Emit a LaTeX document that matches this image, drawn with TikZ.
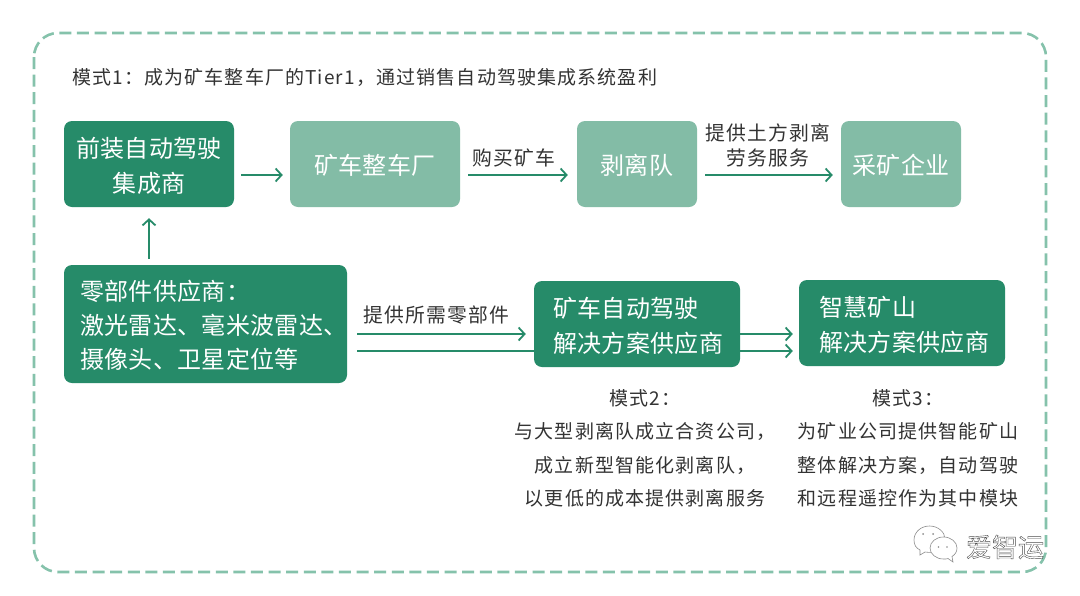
\documentclass[tikz,border=0pt]{standalone}
\usepackage{fontspec}
\usetikzlibrary{arrows.meta}
\setmainfont{Noto Sans CJK SC}
\newfontfamily\boxfont[LetterSpace=1.5]{Noto Sans CJK SC}
\newfontfamily\labfont[LetterSpace=6]{Noto Sans CJK SC}
\newcommand{\bline}[1]{\raisebox{-1.5pt}[\height][\depth]{#1}}
\definecolor{dkgreen}{HTML}{268B69}
\definecolor{ltgreen}{HTML}{83BCA6}
\definecolor{dashgreen}{HTML}{85C2AB}
\definecolor{inktext}{HTML}{333333}
\tikzset{
  dkbox/.style={fill=dkgreen,rounded corners=8pt,text=white,inner sep=0pt,font=\boxfont\fontsize{24}{35}\selectfont},
  ltbox/.style={fill=ltgreen,rounded corners=8pt,text=white,inner sep=0pt,font=\boxfont\fontsize{24}{35}\selectfont},
  lab/.style={text=inktext,inner sep=0pt,align=center,font=\labfont\fontsize{19}{33.5}\selectfont},
  arrlab/.style={text=inktext,inner sep=0pt,align=center,font=\labfont\fontsize{19.8}{25}\selectfont},
  arr/.style={draw=dkgreen,line width=1.8pt,-{Straight Barb[length=6pt,width=13pt,line width=1.8pt]}},
  plainline/.style={draw=dkgreen,line width=1.8pt}
}
\begin{document}
\begin{tikzpicture}[x=1pt,y=-1pt]
\useasboundingbox (0,0) rectangle (1080,595);
\fill[white] (0,0) rectangle (1080,595);
\draw[dashgreen,line width=2.6pt,rounded corners=24pt,dash pattern=on 12pt off 5.6pt] (34,33) rectangle (1046,572);

\node[lab,anchor=west,font=\labfont\fontsize{19}{22}\selectfont] (title) at (72,77) {模式1：成为矿车整车厂的Tier1，通过销售自动驾驶集成系统盈利};

\node[dkbox,minimum width=170pt,minimum height=86pt,align=center] (qz) at (149,164) {\bline{前装自动驾驶}\\\bline{集成商}};
\node[ltbox,minimum width=170pt,minimum height=86pt] (cc) at (375,164) {\bline{矿车整车厂}};
\node[ltbox,minimum width=120pt,minimum height=86pt] (bl) at (637,164) {\bline{剥离队}};
\node[ltbox,minimum width=120pt,minimum height=86pt] (ck) at (901,164) {\bline{采矿企业}};
\node[dkbox,minimum width=283pt,minimum height=118pt,align=left,text width=251pt,font=\boxfont\fontsize{24}{34}\selectfont] (ljj) at (205.5,324) {\bline{零部件供应商：}\\\bline{激光雷达、毫米波雷达、}\\\bline{摄像头、卫星定位等}};
\node[dkbox,minimum width=206pt,minimum height=86pt,align=left,text width=168pt] (jj) at (637,324) {\bline{矿车自动驾驶}\\\bline{解决方案供应商}};
\node[dkbox,minimum width=206pt,minimum height=86pt,align=left,text width=166pt] (zh) at (902,323) {\bline{智慧矿山}\\\bline{解决方案供应商}};

\draw[arr] ([xshift=7pt,yshift=-11pt]qz.east) -- ([xshift=-7pt,yshift=-11pt]cc.west);
\draw[arr] ([yshift=6pt]ljj.north -| qz.south) -- ([yshift=-11pt]qz.south);
\draw[arr] ([xshift=8pt,yshift=-11pt]cc.east) -- node[arrlab,above=7pt,pos=0.46] (gm) {购买矿车} ([xshift=-9pt,yshift=-11pt]bl.west);
\draw[arr] ([xshift=8pt,yshift=-11pt]bl.east) -- ([xshift=-8pt,yshift=-11pt]ck.west);
\node[arrlab] (tg) at (768,145) {提供土方剥离\\劳务服务};
\node[arrlab] (sx) at (436,315) {提供所需零部件};
\draw[arr] ([xshift=10pt,yshift=-10pt]ljj.east) -- ([xshift=-8pt,yshift=-10pt]jj.west);
\draw[plainline] ([xshift=10pt,yshift=-27pt]ljj.east) -- ([yshift=-27pt]jj.west);
\draw[arr] ([yshift=-10pt]jj.east) -- ([xshift=-6pt,yshift=-11pt]zh.west);
\draw[arr] ([yshift=-27pt]jj.east) -- ([xshift=-6pt,yshift=-28pt]zh.west);

\node[lab] (m2) at (645,448.5) {模式2：\\与大型剥离队成立合资公司，\\成立新型智能化剥离队，\\以更低的成本提供剥离服务};
\node[lab] (m3) at (908,448.5) {模式3：\\为矿业公司提供智能矿山\\整体解决方案，自动驾驶\\和远程遥控作为其中模块};

% watermark
\begin{scope}[draw=black!45,line width=0.6pt]
\draw[fill=white] (929.5,526) .. controls (921,526) and (914,532) .. (914,540)
  .. controls (914,545) and (916,548) .. (920,550) -- (920,555) -- (925,552)
  .. controls (935,554) and (945,548) .. (945,539)
  .. controls (945,532) and (938,526) .. (929.5,526) -- cycle;
\draw[fill=white] (943.5,537) .. controls (936,537) and (930,542) .. (930,548)
  .. controls (930,554) and (936,559) .. (943.5,559)
  .. controls (946,559) and (947,559) .. (948,558.5) -- (953,562) -- (952,556.5)
  .. controls (955,554.5) and (957,552) .. (957,548)
  .. controls (957,542) and (951,537) .. (943.5,537) -- cycle;
\fill[black!45] (923,534) circle (1pt) (933,534) circle (1pt) (938.5,547) circle (0.9pt) (947,547) circle (0.9pt);
\end{scope}
\node[inner sep=0pt,text=black!70,font=\fontsize{26}{28}\selectfont] (wm) at (1005,547) {\special{pdf:code 1 Tr 0.4 w}爱智运\special{pdf:code 0 Tr}};
\end{tikzpicture}
\end{document}
